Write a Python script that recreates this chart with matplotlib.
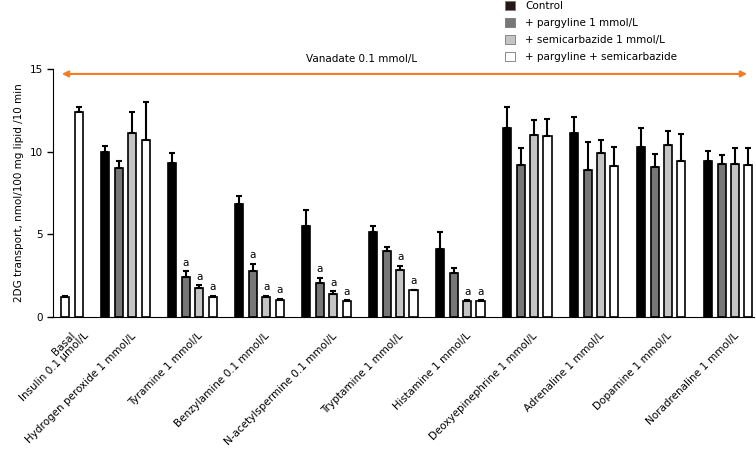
import numpy as np
import matplotlib
matplotlib.use('Agg')
import matplotlib.pyplot as plt
import matplotlib.transforms as mtransforms
from matplotlib.patches import Patch

# compounds (group 0 holds Basal and Insulin as single bars)
groups = ['Hydrogen peroxide 1 mmol/L', 'Tyramine 1 mmol/L', 'Benzylamine 0.1 mmol/L',
          'N-acetylspermine 0.1 mmol/L', 'Tryptamine 1 mmol/L', 'Histamine 1 mmol/L',
          'Deoxyepinephrine 1 mmol/L', 'Adrenaline 1 mmol/L', 'Dopamine 1 mmol/L',
          'Noradrenaline 1 mmol/L']
basal_labels = ['Basal', 'Insulin 0.1 \u00b5mol/L']
basal_vals = [1.2, 12.4]
basal_err = [0.07, 0.3]

series_names = ['Control', '+ pargyline 1 mmol/L', '+ semicarbazide 1 mmol/L',
                '+ pargyline + semicarbazide']
control = [10.0, 9.3, 6.8, 5.5, 5.1, 4.1, 11.4, 11.15, 10.25, 9.45]
control_err = [0.35, 0.6, 0.5, 0.95, 0.42, 1.0, 1.3, 0.93, 1.15, 0.6]
parg = [9.0, 2.43, 2.75, 2.05, 3.95, 2.65, 9.2, 8.86, 9.07, 9.23]
parg_err = [0.4, 0.33, 0.47, 0.31, 0.3, 0.31, 1.0, 1.72, 0.77, 0.55]
semi = [11.15, 1.75, 1.22, 1.38, 2.8, 0.92, 11.0, 9.92, 10.38, 9.23]
semi_err = [1.25, 0.18, 0.06, 0.15, 0.29, 0.09, 0.9, 0.8, 0.85, 1.0]
both = [10.7, 1.2, 1.02, 0.92, 1.6, 0.93, 10.95, 9.1, 9.45, 9.17]
both_err = [2.3, 0.07, 0.08, 0.09, 0.03, 0.07, 1.05, 1.16, 1.6, 1.05]
# significance marks per series (True = "a")
parg_sig = [False, True, True, True, False, False, False, False, False, False]
semi_sig = [False, True, True, True, True, True, False, False, False, False]
both_sig = [False, True, True, True, True, True, False, False, False, False]

colors = ['#000000', '#777777', '#c4c4c4', '#ffffff']
legend_colors = ['#231815', '#777777', '#c4c4c4', '#ffffff']

fig = plt.figure(figsize=(7.56, 4.63), dpi=100)
ax = fig.add_axes([0.0701, 0.316, 0.927, 0.535])

fs = 7.5
off = 0.2
w = 0.12

# basal / insulin at slots 2 and 3 of group 0
bx = [0 + off * 0.5, 0 + off * 1.5]
ax.bar(bx, basal_vals, width=w, color='white', edgecolor='black', linewidth=1.2)
ax.errorbar(bx, basal_vals, yerr=[np.zeros(2), basal_err], fmt='none', ecolor='black',
            elinewidth=1.5, capsize=2.2, capthick=1.5)

gx = np.arange(1, len(groups) + 1)
data = [(control, control_err, None), (parg, parg_err, parg_sig),
        (semi, semi_err, semi_sig), (both, both_err, both_sig)]
for j, (vals, errs, sig) in enumerate(data):
    x = gx + (j - 1.5) * off
    ax.bar(x, vals, width=w, color=colors[j], edgecolor='black', linewidth=1.2, zorder=2)
    ax.errorbar(x, vals, yerr=[np.zeros(len(vals)), errs], fmt='none', ecolor='black',
                elinewidth=1.5, capsize=2.2, capthick=1.5, zorder=3)
    if sig is not None:
        for xi, v, e, s in zip(x, vals, errs, sig):
            if s:
                ax.text(xi, v + e + 0.2, 'a', ha='center', va='bottom', fontsize=fs)

ax.set_xlim(-0.082, 10.38)
ax.set_ylim(0, 15)
ax.set_yticks([0, 5, 10, 15])
ax.tick_params(axis='y', labelsize=fs, length=4, width=1)
ax.tick_params(axis='x', length=0, labelsize=fs, pad=10)
ax.set_xticks(list(bx) + list(gx))
ax.set_xticklabels(basal_labels + groups, rotation=45, ha='right', rotation_mode='anchor')
shift = mtransforms.ScaledTranslation(0.05, 0, fig.dpi_scale_trans)
for lab in ax.get_xticklabels():
    lab.set_transform(lab.get_transform() + shift)
ax.spines['top'].set_visible(False)
ax.spines['right'].set_visible(False)
ax.set_ylabel('2DG transport, nmol/100 mg lipid /10 min', fontsize=fs)

# vanadate arrow
ax.annotate('', xy=(0.05, 14.7), xytext=(10.28, 14.7),
            arrowprops=dict(arrowstyle='<|-|>', color='#f47c20', lw=1.5,
                            mutation_scale=9, shrinkA=0, shrinkB=0),
            annotation_clip=False)
ax.text(4.52, 15.6, 'Vanadate 0.1 mmol/L', ha='center', va='center', fontsize=fs)

handles = [Patch(facecolor=c, edgecolor='#777777', linewidth=0.6) for c in legend_colors]
fig.legend(handles, series_names, loc='upper left', bbox_to_anchor=(0.655, 1.018),
           frameon=False, fontsize=fs, handlelength=1.0, handleheight=1.0,
           labelspacing=0.65, handletextpad=1.0)

fig.savefig('out.png', dpi=100)
